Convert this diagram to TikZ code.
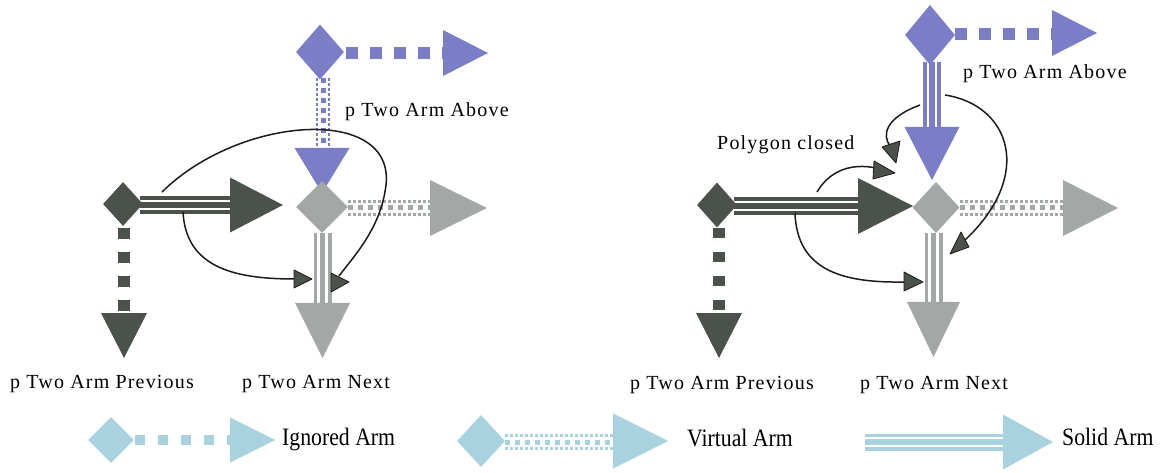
\documentclass[tikz,border=0pt]{standalone}
\usepackage{fontspec}
\usepackage{graphicx}
\setmainfont{Liberation Serif}
\newfontfamily\labfont[LetterSpace=6]{Liberation Serif}
\usetikzlibrary{shapes.geometric}
\definecolor{darkc}{HTML}{4B524C}
\definecolor{grayc}{HTML}{A3A7A5}
\definecolor{purpc}{HTML}{7A7EC6}
\definecolor{bluec}{HTML}{A8D3DE}
\definecolor{curvec}{HTML}{1E1A18}
% arm helpers
\newcommand\virtH[4]{%
  \draw[#1, line width=2.8pt, dash pattern=on 2.6pt off 2.4pt] (#2,#4-6.5) -- (#3,#4-6.5);
  \draw[#1, line width=2.8pt, dash pattern=on 2.6pt off 2.4pt] (#2,#4+6.5) -- (#3,#4+6.5);
  \draw[#1, line width=5pt, dash pattern=on 5pt off 5pt] (#2,#4) -- (#3,#4);}
\newcommand\virtV[4]{%
  \draw[#1, line width=2.8pt, dash pattern=on 2.6pt off 2.4pt] (#4-6,#2) -- (#4-6,#3);
  \draw[#1, line width=2.8pt, dash pattern=on 2.6pt off 2.4pt] (#4+6,#2) -- (#4+6,#3);
  \draw[#1, line width=5pt, dash pattern=on 5pt off 5pt] (#4,#2) -- (#4,#3);}
\newcommand\solidH[5]{%
  \draw[#1, line width=18pt] (#2,#4) -- (#3,#4);
  \draw[white, line width=#5] (#2,#4-4.3) -- (#3,#4-4.3);
  \draw[white, line width=#5] (#2,#4+4.3) -- (#3,#4+4.3);}
\newcommand\solidV[5]{%
  \draw[#1, line width=18pt] (#4,#2) -- (#4,#3);
  \draw[white, line width=#5] (#4-4.3,#2) -- (#4-4.3,#3);
  \draw[white, line width=#5] (#4+4.3,#2) -- (#4+4.3,#3);}
\newcommand\headR[5]{\fill[#1] (#2,#3-#5) -- (#2+#4,#3) -- (#2,#3+#5) -- cycle;}
\newcommand\headD[5]{\fill[#1] (#2-#5,#3) -- (#2,#3+#4) -- (#2+#5,#3) -- cycle;}
\begin{document}
\begin{tikzpicture}[x=1pt,y=-1pt,
  dia/.style={diamond, inner sep=0pt, draw=none},
  ign/.style={line width=12pt, dash pattern=on 12pt off 12pt},
  curve/.style={draw=curvec, line width=1.5pt},
  tiphead/.style={fill=darkc, draw=curvec, line width=0.8pt, line join=round},
  lab/.style={font=\labfont\fontsize{20}{23}\selectfont, inner sep=0pt, anchor=base west},
  leg/.style={font=\fontsize{25}{28}\selectfont, inner sep=0pt, anchor=base west}]
\useasboundingbox (0,0) rectangle (1160,473);

%%%%%%%%%%%%%%%% LEFT DIAGRAM %%%%%%%%%%%%%%%%
% purple (above)
\draw[purpc, ign] (346,53) -- (443,53);
\virtV{purpc}{78}{150}{323}
\headD{purpc}{322}{148}{45}{27.5}
\headR{purpc}{443}{53}{45}{23}
\node[dia, fill=purpc, minimum width=48pt, minimum height=55pt] (LA) at (320,52) {};
% dark (previous)
\solidH{darkc}{140}{232}{205}{1.8pt}
\draw[darkc, line width=12pt, dash pattern=on 11pt off 13pt] (124,228) -- (124,313);
\headR{darkc}{230}{205}{53}{27.5}
\headD{darkc}{124}{313}{45}{23}
\node[dia, fill=darkc, minimum width=40pt, minimum height=44pt] (LP) at (123,204) {};
% gray (next)
\virtH{grayc}{348}{431}{208}
\solidV{grayc}{233}{304}{322.5}{3pt}
\headR{grayc}{430}{208}{57}{28}
\headD{grayc}{322.5}{303}{55}{27.5}
\node[dia, fill=grayc, minimum width=52pt, minimum height=52pt] (LN) at (322,207) {};
% curves
\coordinate (l1s) at (162,192);
\coordinate (l1e) at (339,276);
\coordinate (l2s) at (183,212);
\coordinate (l2e) at (295,279);
\draw[curve] (l1s) .. controls (240,115) and (395,105) .. (386,185) .. controls (381,228) and (354,256) .. (l1e);
\draw[tiphead] (331,273) -- (349,282) -- (331,292) -- cycle;
\draw[curve] (l2s) .. controls (186,268) and (235,279) .. (l2e);
\draw[tiphead] (294,270) -- (312,279) -- (294,288) -- cycle;
% labels
\node[lab] (lAbove) at (345,117) {p Two Arm Above};
\node[lab] (lPrev) at (10,388) {p Two Arm Previous};
\node[lab] (lNext) at (242,388) {p Two Arm Next};

%%%%%%%%%%%%%%%% RIGHT DIAGRAM %%%%%%%%%%%%%%%%
% purple (above)
\draw[purpc, ign] (955,34) -- (1053,34);
\solidV{purpc}{62}{130}{932}{1.8pt}
\headD{purpc}{932}{127}{53}{27.5}
\headR{purpc}{1052}{33}{45}{23}
\node[dia, fill=purpc, minimum width=50pt, minimum height=60pt] (RA) at (930,35) {};
% dark (previous)
\solidH{darkc}{734}{860}{206}{1.8pt}
\draw[darkc, line width=12pt, dash pattern=on 10pt off 14pt] (719,228) -- (719,313);
\headR{darkc}{858}{206}{55}{28}
\headD{darkc}{719}{313}{45}{23}
\node[dia, fill=darkc, minimum width=40pt, minimum height=45pt] (RP) at (717,205) {};
% gray (next)
\virtH{grayc}{960}{1064}{208}
\solidV{grayc}{233}{303}{933.5}{3pt}
\headR{grayc}{1063}{208}{55}{28}
\headD{grayc}{933.5}{302}{55}{26.5}
\node[dia, fill=grayc, minimum width=47pt, minimum height=51pt] (RN) at (936,207.5) {};
% curves
\coordinate (r1s) at (920,105);
\coordinate (r1e) at (890,146);
\coordinate (r2s) at (817,192);
\coordinate (r2e) at (876,168);
\coordinate (r3s) at (945,95);
\coordinate (r3e) at (964,241);
\coordinate (r4s) at (795,213);
\coordinate (r4e) at (905,282);
\draw[curve] (r1s) .. controls (885,118) and (882,135) .. (r1e);
\draw[tiphead] (882,147) -- (900,141) -- (896,163) -- cycle;
\draw[curve] (r2s) .. controls (830,170) and (852,163) .. (r2e);
\draw[tiphead] (874,161) -- (895,173) -- (873,179) -- cycle;
\draw[curve] (r3s) .. controls (1010,105) and (1035,175) .. (r3e);
\draw[tiphead] (961,232) -- (969,247) -- (950,254) -- cycle;
\draw[curve] (r4s) .. controls (797,272) and (845,283) .. (r4e);
\draw[tiphead] (904,272) -- (923,282) -- (904,291) -- cycle;
% labels
\node[lab] (rAbove) at (963,79) {p Two Arm Above};
\node[lab] (rPoly) at (717,150) {Polygon closed};
\node[lab] (rPrev) at (630,389) {p Two Arm Previous};
\node[lab] (rNext) at (860,389) {p Two Arm Next};

%%%%%%%%%%%%%%%% LEGEND %%%%%%%%%%%%%%%%
\draw[bluec, line width=10pt, dash pattern=on 10pt off 13pt] (135,440) -- (231,440);
\headR{bluec}{230}{440}{45}{22.5}
\node[dia, fill=bluec, minimum width=46pt, minimum height=46pt] (gI) at (111,440) {};
\node[leg] (tI) at (282,445) {\scalebox{0.87}[1]{Ignored Arm}};

\virtH{bluec}{505}{614}{442}
\headR{bluec}{613}{441}{55}{27.5}
\node[dia, fill=bluec, minimum width=48pt, minimum height=52pt] (gV) at (481,441) {};
\node[leg] (tV) at (687,446) {\scalebox{0.87}[1]{Virtual Arm}};

\draw[bluec, line width=17pt] (865,442) -- (1004,442);
\draw[white, line width=2.6pt] (865,438) -- (1004,438);
\draw[white, line width=2.6pt] (865,446) -- (1004,446);
\headR{bluec}{1003}{442}{50}{27.5}
\node[leg] (tS) at (1062,445) {\scalebox{0.87}[1]{Solid Arm}};
\end{tikzpicture}
\end{document}
